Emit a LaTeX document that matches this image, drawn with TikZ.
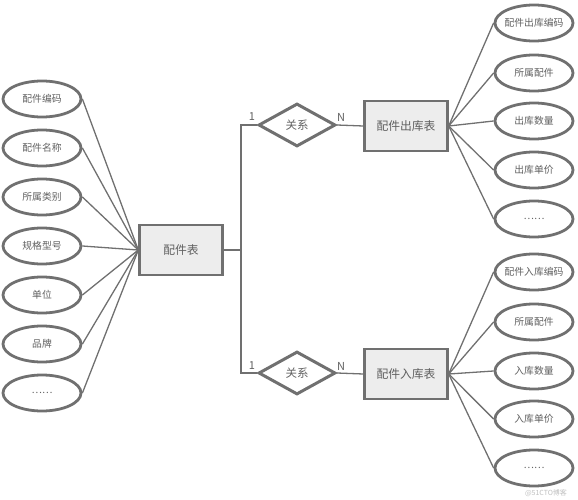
\documentclass[tikz,border=0pt]{standalone}
\usepackage{fontspec}
\setmainfont{Noto Sans CJK SC}
\usetikzlibrary{shapes.geometric}
\definecolor{ln}{HTML}{707070}
\definecolor{tx}{HTML}{606060}
\tikzset{
  attr/.style={ellipse,draw=ln,line width=2.8pt,minimum width=78pt,minimum height=36pt,inner sep=0pt,text=tx,font=\fontsize{9.8}{11}\selectfont},
  ent/.style={rectangle,draw=ln,line width=2.4pt,fill=black!7,minimum width=83pt,minimum height=50pt,inner sep=0pt,text=tx,font=\fontsize{11.8}{13}\selectfont},
  rel/.style={diamond,draw=ln,line width=3pt,minimum width=77pt,minimum height=43pt,inner sep=0pt,aspect=1.75,text=tx,font=\fontsize{11.5}{13}\selectfont},
  conn/.style={draw=ln,line width=1.3pt},
  card/.style={text=tx,font=\fontsize{11}{12}\selectfont,inner sep=0pt}
}
\begin{document}
\begin{tikzpicture}[x=1pt,y=-1pt]
\useasboundingbox (0,0) rectangle (578,500);
% left attributes
\node[attr] (a1) at (42,99) {配件编码};
\node[attr] (a2) at (42,148) {配件名称};
\node[attr] (a3) at (42,197) {所属类别};
\node[attr] (a4) at (42,246) {规格型号};
\node[attr] (a5) at (42,295) {单位};
\node[attr] (a6) at (42,344) {品牌};
\node[attr] (a7) at (42,393) {……};
\node[ent] (pj) at (181,250) {配件表};
\foreach \i in {1,...,7} \draw[conn] (a\i.east) -- (pj.west);
% relations
\node[rel] (r1) at (297,125) {关系};
\node[rel] (r2) at (297,373) {关系};
\coordinate (jn) at (241,250);
\coordinate (t1) at (241,125);
\coordinate (t2) at (241,373);
\draw[conn] (pj.east) -- (jn);
\draw[conn] (r1.west) -- (t1) -- (t2) -- (r2.west);
\node[card] (c1) at (252,117) {1};
\node[card] (n1) at (341,117) {N};
\node[card] (c2) at (252,366) {1};
\node[card] (n2) at (341,366) {N};
\node[ent] (out) at (406,126) {配件出库表};
\node[ent] (in) at (406,374) {配件入库表};
\draw[conn] (r1.east) -- (out.west);
\draw[conn] (r2.east) -- (in.west);
% right attributes top
\node[attr] (o1) at (534,23) {\makebox[0pt]{配件出库编码}};
\node[attr] (o2) at (534,73) {所属配件};
\node[attr] (o3) at (534,121) {出库数量};
\node[attr] (o4) at (534,170) {出库单价};
\node[attr] (o5) at (534,219) {……};
\foreach \i in {1,...,5} \draw[conn] (out.east) -- (o\i.west);
% right attributes bottom
\node[attr] (i1) at (534,272) {\makebox[0pt]{配件入库编码}};
\node[attr] (i2) at (534,322) {所属配件};
\node[attr] (i3) at (534,371) {入库数量};
\node[attr] (i4) at (534,419) {入库单价};
\node[attr] (i5) at (534,468) {……};
\foreach \i in {1,...,5} \draw[conn] (in.east) -- (i\i.west);
\node[text=black!25,font=\fontsize{7}{8}\selectfont,inner sep=0pt] (wm) at (546,493) {@51CTO博客};
\end{tikzpicture}
\end{document}
